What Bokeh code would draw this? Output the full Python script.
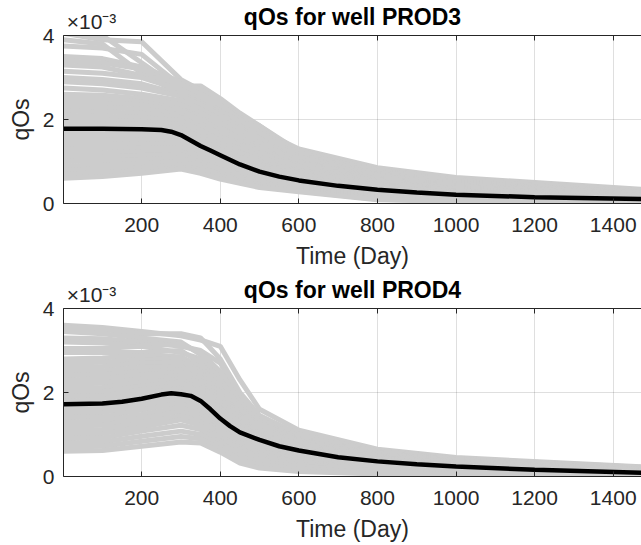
from bokeh.plotting import figure
from bokeh.layouts import column
from bokeh.models import FixedTicker, LinearAxis, Range1d, ColumnDataSource
from bokeh.embed import file_html
from bokeh.resources import INLINE

# ---------------- data (qOs in units of 1e-3) ----------------
T_GREY = [1, 100, 200, 300, 350, 400, 450, 500, 600, 800, 1000, 1500]

PROD3_GREY = [
    [4.10, 4.00, 3.35, 2.70, 2.45, 2.20, 1.95, 1.75, 1.30, 0.85, 0.62, 0.32],
    [4.05, 3.90, 3.85, 2.95, 2.70, 2.40, 2.10, 1.85, 1.25, 0.80, 0.58, 0.30],
    [3.90, 3.80, 3.10, 2.60, 2.35, 2.10, 1.90, 1.70, 1.20, 0.78, 0.55, 0.28],
    [3.75, 3.70, 3.55, 2.80, 2.80, 2.50, 2.15, 1.85, 1.20, 0.75, 0.52, 0.27],
    [3.50, 3.45, 3.25, 2.90, 2.70, 2.45, 2.05, 1.80, 1.15, 0.72, 0.50, 0.26],
    [3.40, 3.35, 3.20, 2.75, 2.55, 2.30, 2.00, 1.70, 1.10, 0.70, 0.48, 0.25],
    [3.30, 3.25, 3.05, 2.85, 2.60, 2.35, 2.00, 1.75, 1.10, 0.68, 0.47, 0.24],
    [3.15, 3.10, 3.00, 2.70, 2.50, 2.20, 1.95, 1.70, 1.05, 0.66, 0.45, 0.23],
    [3.00, 2.95, 2.85, 2.60, 2.40, 2.15, 1.85, 1.60, 1.00, 0.62, 0.43, 0.22],
    [2.90, 2.85, 2.75, 2.55, 2.35, 2.10, 1.80, 1.55, 0.98, 0.60, 0.42, 0.22],
    [2.75, 2.70, 2.60, 2.45, 2.25, 2.00, 1.75, 1.50, 0.95, 0.58, 0.40, 0.21],
    [2.60, 2.58, 2.50, 2.35, 2.15, 1.90, 1.65, 1.45, 0.92, 0.56, 0.38, 0.20],
    [2.50, 2.48, 2.42, 2.25, 2.05, 1.80, 1.55, 1.35, 0.88, 0.54, 0.36, 0.19],
    [2.40, 2.38, 2.35, 2.20, 2.00, 1.72, 1.50, 1.30, 0.85, 0.52, 0.35, 0.18],
    [2.30, 2.28, 2.25, 2.12, 1.90, 1.65, 1.42, 1.25, 0.80, 0.50, 0.33, 0.17],
    [2.20, 2.18, 2.15, 2.05, 1.82, 1.58, 1.38, 1.20, 0.78, 0.47, 0.31, 0.16],
    [2.10, 2.08, 2.05, 1.97, 1.75, 1.50, 1.30, 1.12, 0.74, 0.44, 0.30, 0.15],
    [2.00, 1.98, 1.96, 1.88, 1.65, 1.42, 1.22, 1.05, 0.70, 0.42, 0.28, 0.14],
    [1.90, 1.89, 1.88, 1.80, 1.58, 1.35, 1.15, 1.00, 0.66, 0.40, 0.26, 0.13],
    [1.80, 1.79, 1.78, 1.72, 1.50, 1.28, 1.10, 0.95, 0.62, 0.38, 0.25, 0.12],
    [1.70, 1.70, 1.70, 1.65, 1.42, 1.20, 1.04, 0.90, 0.58, 0.35, 0.23, 0.11],
    [1.60, 1.60, 1.60, 1.56, 1.35, 1.14, 0.98, 0.85, 0.55, 0.33, 0.21, 0.10],
    [1.50, 1.50, 1.51, 1.48, 1.28, 1.08, 0.92, 0.80, 0.52, 0.30, 0.20, 0.09],
    [1.40, 1.40, 1.42, 1.40, 1.20, 1.02, 0.86, 0.74, 0.48, 0.28, 0.18, 0.08],
    [1.30, 1.31, 1.33, 1.32, 1.12, 0.95, 0.80, 0.68, 0.45, 0.25, 0.16, 0.08],
    [1.20, 1.21, 1.24, 1.24, 1.05, 0.88, 0.74, 0.62, 0.42, 0.22, 0.14, 0.07],
    [1.10, 1.11, 1.14, 1.16, 0.98, 0.82, 0.68, 0.57, 0.38, 0.19, 0.12, 0.06],
    [1.00, 1.01, 1.05, 1.08, 0.92, 0.76, 0.62, 0.52, 0.35, 0.16, 0.10, 0.06],
    [0.90, 0.91, 0.95, 1.00, 0.86, 0.70, 0.58, 0.48, 0.33, 0.14, 0.08, 0.05],
    [0.80, 0.82, 0.86, 0.92, 0.80, 0.65, 0.54, 0.44, 0.31, 0.12, 0.07, 0.05],
    [0.70, 0.73, 0.78, 0.86, 0.74, 0.60, 0.50, 0.40, 0.30, 0.10, 0.06, 0.04],
    [0.60, 0.64, 0.72, 0.82, 0.72, 0.58, 0.48, 0.38, 0.28, 0.09, 0.05, 0.04],
]

PROD4_GREY = [
    [3.60, 3.55, 3.45, 3.35, 3.25, 3.10, 2.30, 1.60, 1.10, 0.65, 0.45, 0.22],
    [3.55, 3.50, 3.40, 3.40, 3.30, 2.80, 2.00, 1.45, 1.00, 0.62, 0.43, 0.21],
    [3.45, 3.40, 3.30, 3.20, 2.90, 2.40, 1.80, 1.35, 0.95, 0.60, 0.41, 0.20],
    [3.30, 3.28, 3.20, 3.10, 3.00, 2.70, 1.90, 1.30, 0.90, 0.58, 0.40, 0.20],
    [3.20, 3.18, 3.12, 3.15, 2.95, 2.50, 1.75, 1.25, 0.88, 0.56, 0.38, 0.19],
    [3.05, 3.05, 3.10, 2.95, 2.80, 2.30, 1.65, 1.20, 0.85, 0.54, 0.37, 0.18],
    [2.95, 2.95, 2.95, 3.00, 2.70, 2.20, 1.60, 1.15, 0.82, 0.52, 0.36, 0.18],
    [2.80, 2.82, 2.88, 2.85, 2.60, 2.10, 1.50, 1.10, 0.78, 0.50, 0.34, 0.17],
    [2.70, 2.72, 2.78, 2.80, 2.50, 2.00, 1.45, 1.05, 0.75, 0.48, 0.33, 0.17],
    [2.60, 2.62, 2.70, 2.72, 2.45, 1.95, 1.40, 1.00, 0.72, 0.46, 0.32, 0.16],
    [2.50, 2.52, 2.60, 2.62, 2.35, 1.85, 1.35, 0.98, 0.70, 0.45, 0.31, 0.16],
    [2.40, 2.42, 2.50, 2.55, 2.28, 1.78, 1.30, 0.95, 0.67, 0.43, 0.30, 0.15],
    [2.30, 2.32, 2.42, 2.48, 2.20, 1.70, 1.25, 0.92, 0.64, 0.41, 0.29, 0.15],
    [2.20, 2.22, 2.32, 2.40, 2.12, 1.62, 1.20, 0.88, 0.62, 0.40, 0.28, 0.14],
    [2.10, 2.12, 2.24, 2.32, 2.05, 1.55, 1.15, 0.85, 0.60, 0.38, 0.27, 0.14],
    [2.00, 2.02, 2.15, 2.25, 1.98, 1.48, 1.10, 0.82, 0.57, 0.37, 0.26, 0.13],
    [1.90, 1.92, 2.06, 2.18, 1.90, 1.42, 1.05, 0.78, 0.54, 0.35, 0.24, 0.12],
    [1.80, 1.82, 1.97, 2.10, 1.82, 1.35, 1.00, 0.75, 0.52, 0.33, 0.23, 0.12],
    [1.70, 1.72, 1.88, 2.02, 1.75, 1.28, 0.95, 0.72, 0.50, 0.31, 0.22, 0.11],
    [1.60, 1.62, 1.78, 1.94, 1.68, 1.22, 0.90, 0.68, 0.47, 0.30, 0.21, 0.10],
    [1.50, 1.52, 1.68, 1.85, 1.60, 1.15, 0.85, 0.64, 0.44, 0.28, 0.20, 0.10],
    [1.40, 1.42, 1.58, 1.75, 1.52, 1.08, 0.80, 0.60, 0.42, 0.26, 0.18, 0.09],
    [1.30, 1.32, 1.48, 1.65, 1.45, 1.02, 0.75, 0.56, 0.40, 0.24, 0.17, 0.09],
    [1.20, 1.22, 1.38, 1.55, 1.38, 0.95, 0.70, 0.52, 0.37, 0.22, 0.16, 0.08],
    [1.10, 1.12, 1.28, 1.45, 1.30, 0.90, 0.65, 0.48, 0.34, 0.20, 0.14, 0.08],
    [1.00, 1.02, 1.18, 1.35, 1.22, 0.84, 0.60, 0.44, 0.31, 0.18, 0.13, 0.07],
    [0.90, 0.92, 1.08, 1.22, 1.12, 0.78, 0.55, 0.40, 0.28, 0.16, 0.11, 0.06],
    [0.80, 0.82, 0.96, 1.08, 1.00, 0.72, 0.48, 0.34, 0.24, 0.13, 0.09, 0.05],
    [0.70, 0.72, 0.84, 0.95, 0.90, 0.65, 0.40, 0.28, 0.18, 0.10, 0.07, 0.05],
    [0.60, 0.62, 0.72, 0.82, 0.80, 0.58, 0.32, 0.20, 0.12, 0.06, 0.05, 0.04],
]

T_MEAN3 = [1, 100, 200, 250, 275, 300, 325, 350, 375, 400, 450, 500, 550, 600,
           700, 800, 900, 1000, 1200, 1500]
PROD3_MEAN = [1.78, 1.78, 1.77, 1.75, 1.71, 1.63, 1.50, 1.37, 1.26, 1.15, 0.93, 0.76,
              0.64, 0.55, 0.42, 0.33, 0.26, 0.21, 0.15, 0.10]

T_MEAN4 = [1, 100, 150, 200, 250, 275, 300, 325, 350, 375, 400, 425, 450, 500, 550,
           600, 700, 800, 900, 1000, 1200, 1500]
PROD4_MEAN = [1.72, 1.74, 1.78, 1.85, 1.95, 1.98, 1.96, 1.92, 1.80, 1.60, 1.38, 1.20,
              1.05, 0.87, 0.72, 0.62, 0.46, 0.36, 0.29, 0.24, 0.16, 0.08]

X_TICKS = [200, 400, 600, 800, 1000, 1200, 1400]
Y_TICKS = [0, 2, 4]
TITLES = ["qOs for well PROD3", "qOs for well PROD4"]
EXPONENT = "×10⁻³"

FONT = "Liberation Sans"
TXT = "#262626"
GREY = "#cccccc"

X0, X1 = 1, 1472          # visible time window
FRAME_W = 578             # frame width in px
EXP_CENTER_PX = 28        # centre of the exponent text, px from the frame's left edge
EXP_X = X0 + EXP_CENTER_PX * (X1 - X0) / FRAME_W


def make_panel(title, grey, t_mean, mean, height, border_top, border_bottom):
    p = figure(width=641, height=height, output_backend="svg", toolbar_location=None,
               x_range=Range1d(X0, X1), y_range=Range1d(0, 4),
               min_border_left=63, min_border_right=0,
               min_border_top=border_top, min_border_bottom=border_bottom,
               x_axis_label="Time (Day)", y_axis_label="qOs")
    p.outline_line_color = None
    p.background_fill_color = "white"
    p.border_fill_color = "white"

    src = ColumnDataSource(dict(xs=[T_GREY] * len(grey), ys=grey))
    p.multi_line("xs", "ys", source=src, line_color=GREY, line_width=5)
    p.line(t_mean, mean, line_color="black", line_width=4.5)

    for ax in (p.xaxis[0], p.yaxis[0]):
        ax.major_tick_in = 5
        ax.major_tick_out = 0
        ax.minor_tick_line_color = None
        ax.axis_line_color = TXT
        ax.major_tick_line_color = TXT
        ax.major_label_text_color = TXT
        ax.major_label_text_font = FONT
        ax.major_label_text_font_size = "21px"
        ax.axis_label_text_font = FONT
        ax.axis_label_text_font_size = "23px"
        ax.axis_label_text_font_style = "normal"
        ax.axis_label_text_color = TXT
    p.xaxis.ticker = FixedTicker(ticks=X_TICKS)
    p.yaxis.ticker = FixedTicker(ticks=Y_TICKS)
    p.xaxis.major_label_standoff = 14
    p.xaxis.axis_label_standoff = 8
    p.yaxis.major_label_standoff = 9
    p.yaxis.axis_label_standoff = 6

    # top box edge with inward ticks (no labels)
    top = LinearAxis(ticker=FixedTicker(ticks=X_TICKS))
    top.major_tick_in = 5
    top.major_tick_out = 0
    top.minor_tick_line_color = None
    top.axis_line_color = TXT
    top.major_tick_line_color = TXT
    top.major_label_text_font_size = "0px"
    top.major_label_text_color = None
    top.major_label_standoff = 0
    p.add_layout(top, "above")

    # exponent (as a tick label) and title (as the axis label) on the same row
    ttl = LinearAxis(ticker=FixedTicker(ticks=[EXP_X]),
                     major_label_overrides={EXP_X: EXPONENT})
    ttl.axis_line_color = None
    ttl.major_tick_line_color = None
    ttl.minor_tick_line_color = None
    ttl.major_tick_in = 0
    ttl.major_tick_out = 0
    ttl.major_label_standoff = 3
    ttl.major_label_text_font = FONT
    ttl.major_label_text_font_size = "21px"
    ttl.major_label_text_color = TXT
    ttl.axis_label = title
    ttl.axis_label_text_font = FONT
    ttl.axis_label_text_font_size = "23px"
    ttl.axis_label_text_font_style = "bold"
    ttl.axis_label_text_color = "black"
    ttl.axis_label_standoff = -23
    p.add_layout(ttl, "above")

    p.xgrid.ticker = FixedTicker(ticks=X_TICKS)
    p.ygrid.ticker = FixedTicker(ticks=Y_TICKS)
    p.grid.grid_line_color = "#262626"
    p.grid.grid_line_alpha = 0.15
    p.grid.grid_line_width = 1
    return p


p1 = make_panel(TITLES[0], PROD3_GREY, T_MEAN3, PROD3_MEAN, 273, 33, 70)
p2 = make_panel(TITLES[1], PROD4_GREY, T_MEAN4, PROD4_MEAN, 272, 33, 69)

p = column(p1, p2, spacing=0)
open("out.html", "w").write(file_html(p, INLINE))
